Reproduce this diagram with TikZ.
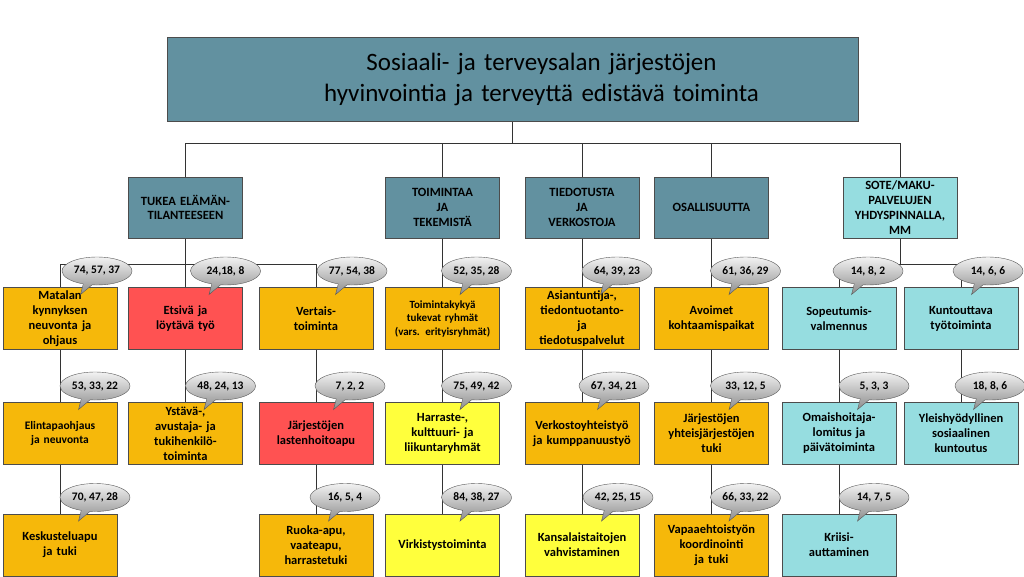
\documentclass[tikz,border=0pt]{standalone}
\usepackage{fontspec}
\setmainfont{Carlito}
\usetikzlibrary{positioning,shapes.callouts}
\definecolor{headblue}{RGB}{98,145,160}
\definecolor{amber}{RGB}{246,184,10}
\definecolor{alarm}{RGB}{255,82,82}
\definecolor{lemon}{RGB}{255,255,60}
\definecolor{aqua}{RGB}{150,221,224}

\begin{document}
\begin{tikzpicture}[
    x=1pt, y=-1pt,
    box/.style={%
      draw=black!70,
      line width=1pt,
      rectangle,
      minimum width=114pt,
      minimum height=62pt,
      text width=108pt,
      inner sep=2pt,
      align=center,
      font=\fontsize{12.5}{15}\selectfont\bfseries,
    },
    head/.style={%
      box,
      fill=headblue,
      minimum height=61pt,
      inner sep=0.5pt,
      font=\fontsize{12.6}{14.8}\selectfont\bfseries,
    },
    bubble/.style={%
      ellipse callout,
      draw=black!65,
      top color=black!5,
      bottom color=black!45,
      minimum width=70pt,
      minimum height=28pt,
      inner sep=0pt,
      callout relative pointer={(-7pt,-10pt)},
      font=\fontsize{11.5}{13}\selectfont\bfseries,
    },
    link/.style={draw=black!80, line width=0.8pt},
  ]
    \useasboundingbox (0,0) rectangle (1024,576);

    \node [box, fill=headblue, minimum width=691pt, minimum height=84pt] (title) at (512.5,79) {};
    \path (title) ++(29,0) node [text width=600pt, align=center, font=\fontsize{25}{31}\selectfont] (titleText)
      {Sosiaali- ja terveysalan järjestöjen\\hyvinvointia ja terveyttä edistävä toiminta};

    \path (title) ++(-327,128.5) node [head] (tukea) {TUKEA ELÄMÄN-\\TILANTEESEEN};
    \path (title) ++(-70,128.5) node [head] (toimintaa) {TOIMINTAA\\JA\\TEKEMISTÄ};
    \path (title) ++(69.5,128.5) node [head] (tiedotusta) {TIEDOTUSTA\\JA\\VERKOSTOJA};
    \path (title) ++(199,128.5) node [head] (osallisuutta) {OSALLISUUTTA};
    \path (title) ++(387.5,128.5) node [head, fill=aqua] (sote) {SOTE/MAKU-\\PALVELUJEN\\YHDYSPINNALLA,\\MM};

    \path (tukea) ++(-125.5,111) node [box, fill=amber] (matalan) {Matalan\\kynnyksen\\neuvonta ja\\ohjaus};
    \path (tukea) ++(0,111) node [box, fill=alarm] (etsiva) {Etsivä ja\\löytävä työ};
    \path (tukea) ++(130.5,111) node [box, fill=amber] (vertais) {Vertais-\\toiminta};
    \path (toimintaa) ++(0,111) node [box, fill=amber, font=\fontsize{11}{13.5}\selectfont\bfseries] (kyky) {Toimintakykyä\\tukevat ryhmät\\(vars. erityisryhmät)};
    \path (tiedotusta) ++(0,111) node [box, fill=amber] (asiantuntija) {Asiantuntija-,\\tiedontuotanto-\\ja\\tiedotuspalvelut};
    \path (osallisuutta) ++(0,111) node [box, fill=amber] (avoimet) {Avoimet\\kohtaamispaikat};
    \path (sote) ++(-61,111) node [box, fill=aqua] (sopeutumis) {Sopeutumis-\\valmennus};
    \path (sote) ++(61,111) node [box, fill=aqua] (kuntouttava) {Kuntouttava\\työtoiminta};

    \path (matalan) ++(0,115) node [box, fill=amber, font=\fontsize{11.5}{14.5}\selectfont\bfseries] (elintapa) {Elintapaohjaus\\ja neuvonta};
    \path (etsiva) ++(0,115) node [box, fill=amber] (ystava) {Ystävä-,\\avustaja- ja\\tukihenkilö-\\toiminta};
    \path (vertais) ++(0,115) node [box, fill=alarm] (lastenhoito) {Järjestöjen\\lastenhoitoapu};
    \path (kyky) ++(0,115) node [box, fill=lemon] (harraste) {Harraste-,\\kulttuuri- ja\\liikuntaryhmät};
    \path (asiantuntija) ++(0,115) node [box, fill=amber] (verkosto) {Verkostoyhteistyö\\ja kumppanuustyö};
    \path (avoimet) ++(0,115) node [box, fill=amber] (yhteis) {Järjestöjen\\yhteisjärjestöjen\\tuki};
    \path (sopeutumis) ++(0,115) node [box, fill=aqua] (omaishoito) {Omaishoitaja-\\lomitus ja\\päivätoiminta};
    \path (kuntouttava) ++(0,115) node [box, fill=aqua] (yleishyodyllinen) {Yleishyödyllinen\\sosiaalinen\\kuntoutus};

    \path (elintapa) ++(0,111.5) node [box, fill=amber] (keskustelu) {Keskusteluapu\\ja tuki};
    \path (lastenhoito) ++(0,111.5) node [box, fill=amber] (ruoka) {Ruoka-apu,\\vaateapu,\\harrastetuki};
    \path (harraste) ++(0,111.5) node [box, fill=lemon] (virkistys) {Virkistystoiminta};
    \path (verkosto) ++(0,111.5) node [box, fill=lemon] (kansalais) {Kansalaistaitojen\\vahvistaminen};
    \path (yhteis) ++(0,111.5) node [box, fill=amber] (vapaaehtois) {Vapaaehtoistyön\\koordinointi\\ja tuki};
    \path (omaishoito) ++(0,111.5) node [box, fill=aqua] (kriisi) {Kriisi-\\auttaminen};

    % connectors
    \draw [link] (title.south) -- ++(0,22) coordinate (hub);
    \draw [link] (tukea.north) |- (hub) -| (sote.north);
    \draw [link] (toimintaa.north) -- (toimintaa.north |- hub);
    \draw [link] (tiedotusta.north) -- (tiedotusta.north |- hub);
    \draw [link] (osallisuutta.north) -- (osallisuutta.north |- hub);

    \draw [link] (matalan.north) -- ++(0,-23) -| (vertais.north);
    \draw [link] (tukea) -- (etsiva);
    \draw [link] (sopeutumis.north) -- ++(0,-23) coordinate (soteBus) -| (kuntouttava.north);
    \draw [link] (sote) -- (sote |- soteBus);

    \draw [link] (matalan) -- (elintapa);
    \draw [link] (elintapa) -- (keskustelu);
    \draw [link] (etsiva) -- (ystava);
    \draw [link] (vertais) -- (lastenhoito);
    \draw [link] (lastenhoito) -- (ruoka);
    \draw [link] (toimintaa) -- (kyky);
    \draw [link] (kyky) -- (harraste);
    \draw [link] (harraste) -- (virkistys);
    \draw [link] (tiedotusta) -- (asiantuntija);
    \draw [link] (asiantuntija) -- (verkosto);
    \draw [link] (verkosto) -- (kansalais);
    \draw [link] (osallisuutta) -- (avoimet);
    \draw [link] (avoimet) -- (yhteis);
    \draw [link] (yhteis) -- (vapaaehtois);
    \draw [link] (sopeutumis) -- (omaishoito);
    \draw [link] (omaishoito) -- (kriisi);
    \draw [link] (kuntouttava) -- (yleishyodyllinen);

    % counts
    \path (matalan.north) ++(37,-16) node [bubble] (matalanNum) {74, 57, 37};
    \path (etsiva.north) ++(40,-16) node [bubble] (etsivaNum) {24,18, 8};
    \path (vertais.north) ++(36,-16) node [bubble] (vertaisNum) {77, 54, 38};
    \path (kyky.north) ++(34,-16) node [bubble] (kykyNum) {52, 35, 28};
    \path (asiantuntija.north) ++(35,-16) node [bubble] (asiantuntijaNum) {64, 39, 23};
    \path (avoimet.north) ++(34,-16) node [bubble] (avoimetNum) {61, 36, 29};
    \path (sopeutumis.north) ++(29,-16) node [bubble] (sopeutumisNum) {14, 8, 2};
    \path (kuntouttava.north) ++(27,-16) node [bubble] (kuntouttavaNum) {14, 6, 6};

    \path (elintapa.north) ++(35,-16) node [bubble] (elintapaNum) {53, 33, 22};
    \path (ystava.north) ++(35,-16) node [bubble] (ystavaNum) {48, 24, 13};
    \path (lastenhoito.north) ++(34,-16) node [bubble] (lastenhoitoNum) {7, 2, 2};
    \path (harraste.north) ++(34,-16) node [bubble] (harrasteNum) {75, 49, 42};
    \path (verkosto.north) ++(32,-16) node [bubble] (verkostoNum) {67, 34, 21};
    \path (yhteis.north) ++(34,-16) node [bubble] (yhteisNum) {33, 12, 5};
    \path (omaishoito.north) ++(35,-16) node [bubble] (omaishoitoNum) {5, 3, 3};
    \path (yleishyodyllinen.north) ++(29,-16) node [bubble] (yleishyodyllinenNum) {18, 8, 6};

    \path (keskustelu.north) ++(35,-16) node [bubble] (keskusteluNum) {70, 47, 28};
    \path (ruoka.north) ++(29,-16) node [bubble] (ruokaNum) {16, 5, 4};
    \path (virkistys.north) ++(34,-16) node [bubble] (virkistysNum) {84, 38, 27};
    \path (kansalais.north) ++(36,-16) node [bubble] (kansalaisNum) {42, 25, 15};
    \path (vapaaehtois.north) ++(34,-16) node [bubble] (vapaaehtoisNum) {66, 33, 22};
    \path (kriisi.north) ++(35,-16) node [bubble] (kriisiNum) {14, 7, 5};
\end{tikzpicture}
\end{document}
